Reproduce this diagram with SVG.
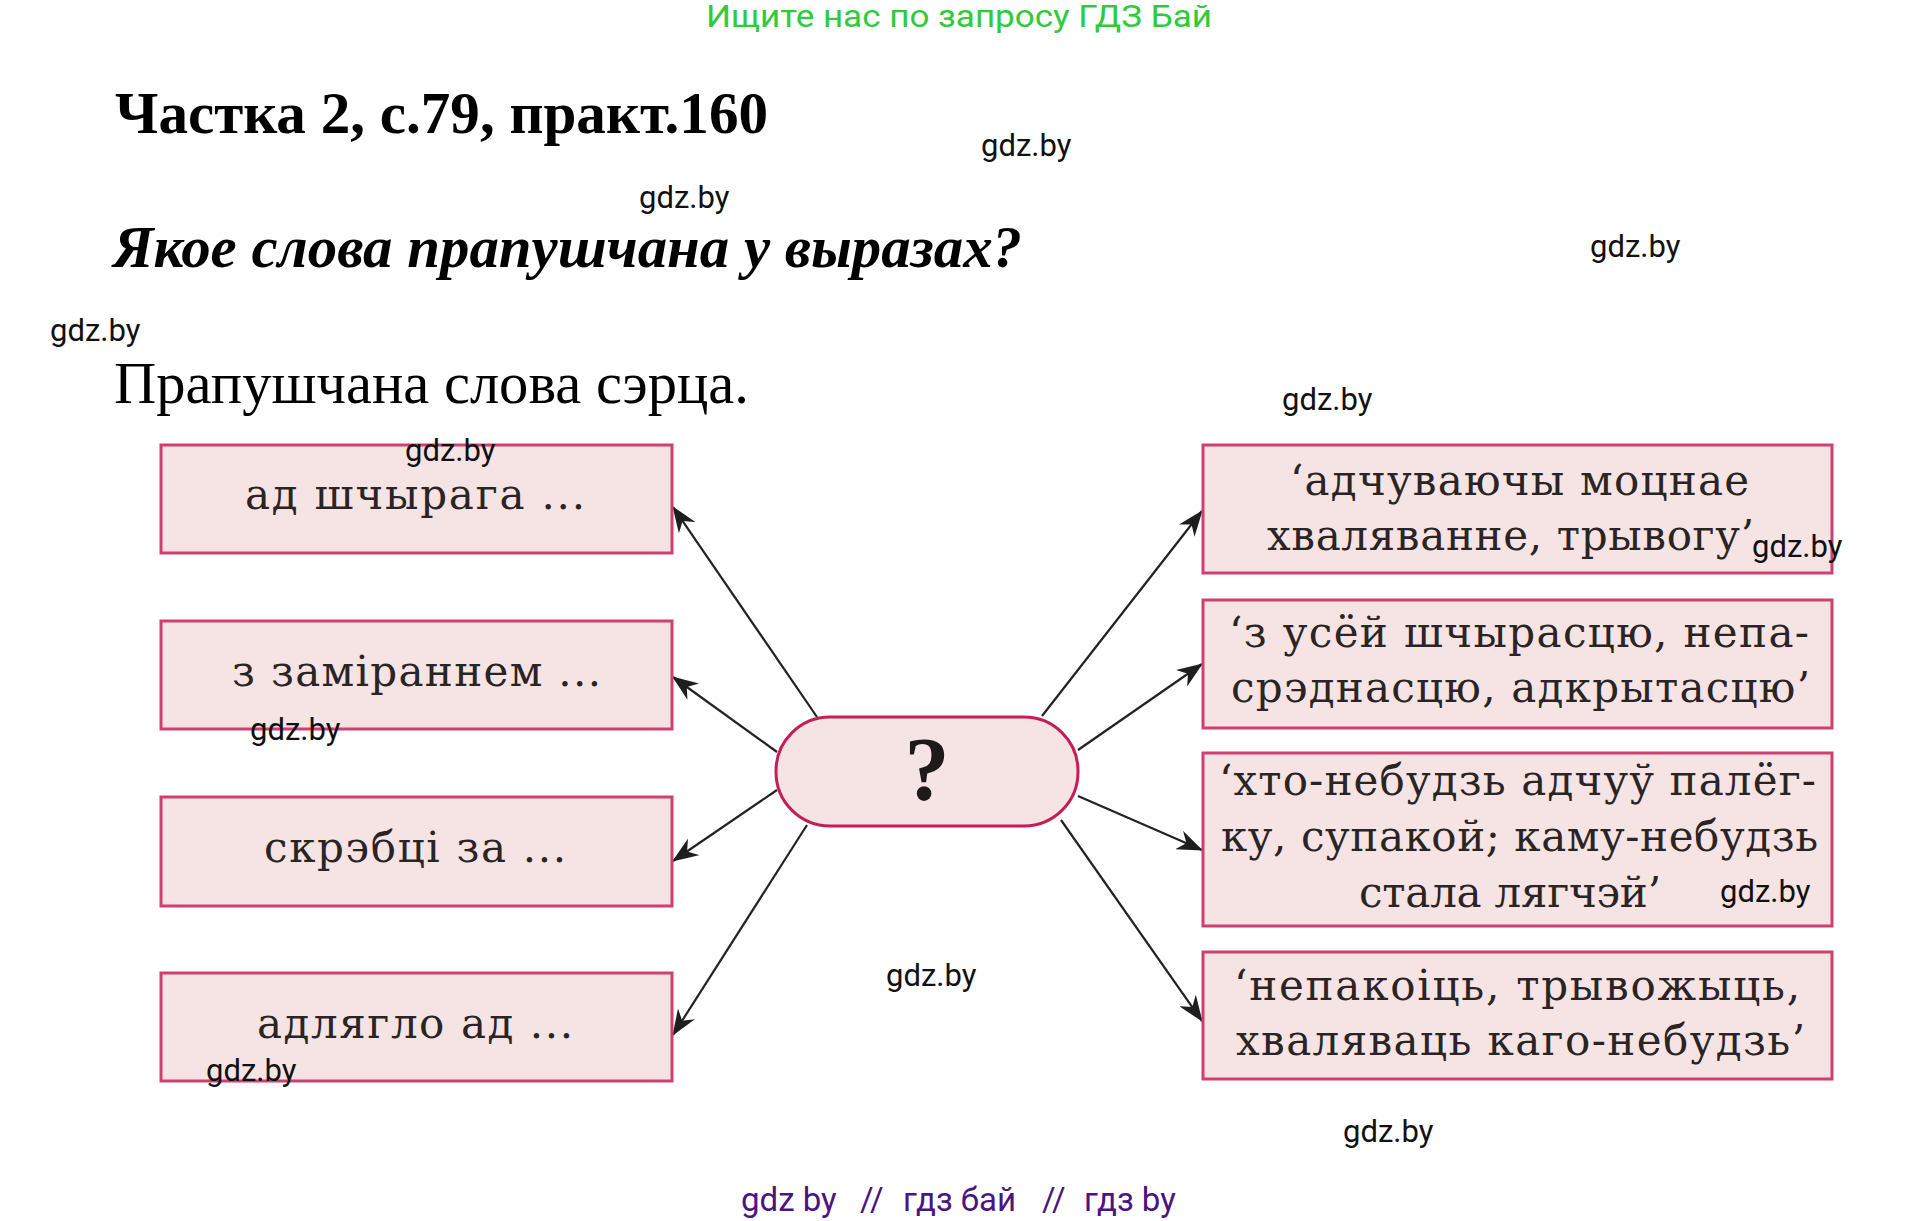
<svg xmlns="http://www.w3.org/2000/svg" width="1919" height="1221" viewBox="0 0 1919 1221">
<defs>
<style>
.bg{fill:#ffffff}
.box{fill:#f6e3e3;stroke:#cf3f72;stroke-width:3}
.pill{fill:#f6e3e3;stroke:#c41d57;stroke-width:3}
.bt{font-family:"DejaVu Serif","Liberation Serif",serif;font-size:42px;fill:#2b2424}
.wm{font-family:Roboto,"Liberation Sans",Arial,sans-serif;font-size:31px;fill:#111111}
.conn{stroke:#222222;stroke-width:2.2;fill:none;marker-end:url(#ah)}
.t1{font-family:"Liberation Serif","Times New Roman",serif;font-size:60px;font-weight:bold;fill:#000}
.t2{font-family:"Liberation Serif","Times New Roman",serif;font-size:60px;font-weight:bold;font-style:italic;fill:#000}
.t3{font-family:"Liberation Serif","Times New Roman",serif;font-size:60px;fill:#000}
.green{font-family:Roboto,"Liberation Sans",sans-serif;font-size:32px;fill:#2fcb3a}
.purple{font-family:Roboto,"Liberation Sans",sans-serif;font-size:33px;fill:#4a1580}
</style>
<marker id="ah" viewBox="0 0 26 20" refX="25" refY="10" markerWidth="26" markerHeight="20" markerUnits="userSpaceOnUse" orient="auto">
<path d="M0,0 L26,10 L0,20 L8,10 z" fill="#1e1e1e"/>
</marker>
</defs>
<rect class="bg" x="0" y="0" width="1919" height="1221"/>

<g id="header">
<text class="green" x="706" y="27" textLength="506" lengthAdjust="spacingAndGlyphs">Ищите нас по запросу ГДЗ Бай</text>
<text class="t1" x="115" y="133" textLength="653" lengthAdjust="spacingAndGlyphs">Частка 2, с.79, практ.160</text>
<text class="t2" x="113" y="267" textLength="909" lengthAdjust="spacingAndGlyphs">Якое слова прапушчана у выразах?</text>
<text class="t3" x="114" y="403" textLength="635" lengthAdjust="spacingAndGlyphs">Прапушчана слова сэрца.</text>
</g>

<g id="connectors">
<line class="conn" x1="817" y1="717" x2="673" y2="507"/>
<line class="conn" x1="777" y1="752" x2="673" y2="677"/>
<line class="conn" x1="777" y1="790" x2="673" y2="861"/>
<line class="conn" x1="807" y1="825" x2="673" y2="1035"/>
<line class="conn" x1="1042" y1="716" x2="1202" y2="511"/>
<line class="conn" x1="1078" y1="750" x2="1202" y2="664"/>
<line class="conn" x1="1078" y1="796" x2="1202" y2="850"/>
<line class="conn" x1="1061" y1="820" x2="1202" y2="1021"/>
</g>

<g id="center">
<rect class="pill" x="776" y="717" width="302" height="109" rx="54" ry="54"/>
<text x="927" y="800" text-anchor="middle" font-family="Liberation Serif, Times New Roman, serif" font-weight="bold" font-size="90" fill="#1e1a1a">?</text>
</g>

<g id="left1">
<rect class="box" x="161" y="445" width="511" height="108"/>
<text class="bt" x="245" y="509" textLength="340" lengthAdjust="spacing">ад шчырага ...</text>
</g>
<g id="left2">
<rect class="box" x="161" y="621" width="511" height="108"/>
<text class="bt" x="232" y="686" textLength="369" lengthAdjust="spacing">з заміраннем ...</text>
</g>
<g id="left3">
<rect class="box" x="161" y="797" width="511" height="109"/>
<text class="bt" x="264" y="862" textLength="302" lengthAdjust="spacing">скрэбці за ...</text>
</g>
<g id="left4">
<rect class="box" x="161" y="973" width="511" height="108"/>
<text class="bt" x="257" y="1038" textLength="316" lengthAdjust="spacing">адлягло ад ...</text>
</g>

<g id="right1">
<rect class="box" x="1203" y="445" width="629" height="128"/>
<text class="bt" x="1290" y="495" textLength="459" lengthAdjust="spacing">‘адчуваючы моцнае</text>
<text class="bt" x="1267" y="550" textLength="487" lengthAdjust="spacing">хваляванне, трывогу’</text>
</g>
<g id="right2">
<rect class="box" x="1203" y="600" width="629" height="128"/>
<text class="bt" x="1229" y="647" textLength="580" lengthAdjust="spacing">‘з усёй шчырасцю, непа-</text>
<text class="bt" x="1231" y="702" textLength="579" lengthAdjust="spacing">срэднасцю, адкрытасцю’</text>
</g>
<g id="right3">
<rect class="box" x="1203" y="753" width="629" height="173"/>
<text class="bt" x="1219" y="795" textLength="597" lengthAdjust="spacing">‘хто-небудзь адчуў палёг-</text>
<text class="bt" x="1221" y="851" textLength="597" lengthAdjust="spacing">ку, супакой; каму-небудзь</text>
<text class="bt" x="1359" y="907" textLength="302" lengthAdjust="spacing">стала лягчэй’</text>
</g>
<g id="right4">
<rect class="box" x="1203" y="952" width="629" height="127"/>
<text class="bt" x="1234" y="1000" textLength="566" lengthAdjust="spacing">‘непакоіць, трывожыць,</text>
<text class="bt" x="1236" y="1055" textLength="569" lengthAdjust="spacing">хваляваць каго-небудзь’</text>
</g>

<g id="watermarks">
<text class="wm" x="981" y="156">gdz.by</text>
<text class="wm" x="639" y="208">gdz.by</text>
<text class="wm" x="1590" y="257">gdz.by</text>
<text class="wm" x="50" y="341">gdz.by</text>
<text class="wm" x="1282" y="410">gdz.by</text>
<text class="wm" x="405" y="461">gdz.by</text>
<text class="wm" x="1752" y="557" font-size="24">gdz.by</text>
<text class="wm" x="250" y="740">gdz.by</text>
<text class="wm" x="1720" y="902">gdz.by</text>
<text class="wm" x="886" y="986">gdz.by</text>
<text class="wm" x="206" y="1081">gdz.by</text>
<text class="wm" x="1343" y="1142">gdz.by</text>
</g>

<g id="footer">
<text class="purple" y="1211"><tspan x="741">gdz by</tspan><tspan x="860">//</tspan><tspan x="903">гдз бай</tspan><tspan x="1042">//</tspan><tspan x="1084">гдз by</tspan></text>
</g>
</svg>
